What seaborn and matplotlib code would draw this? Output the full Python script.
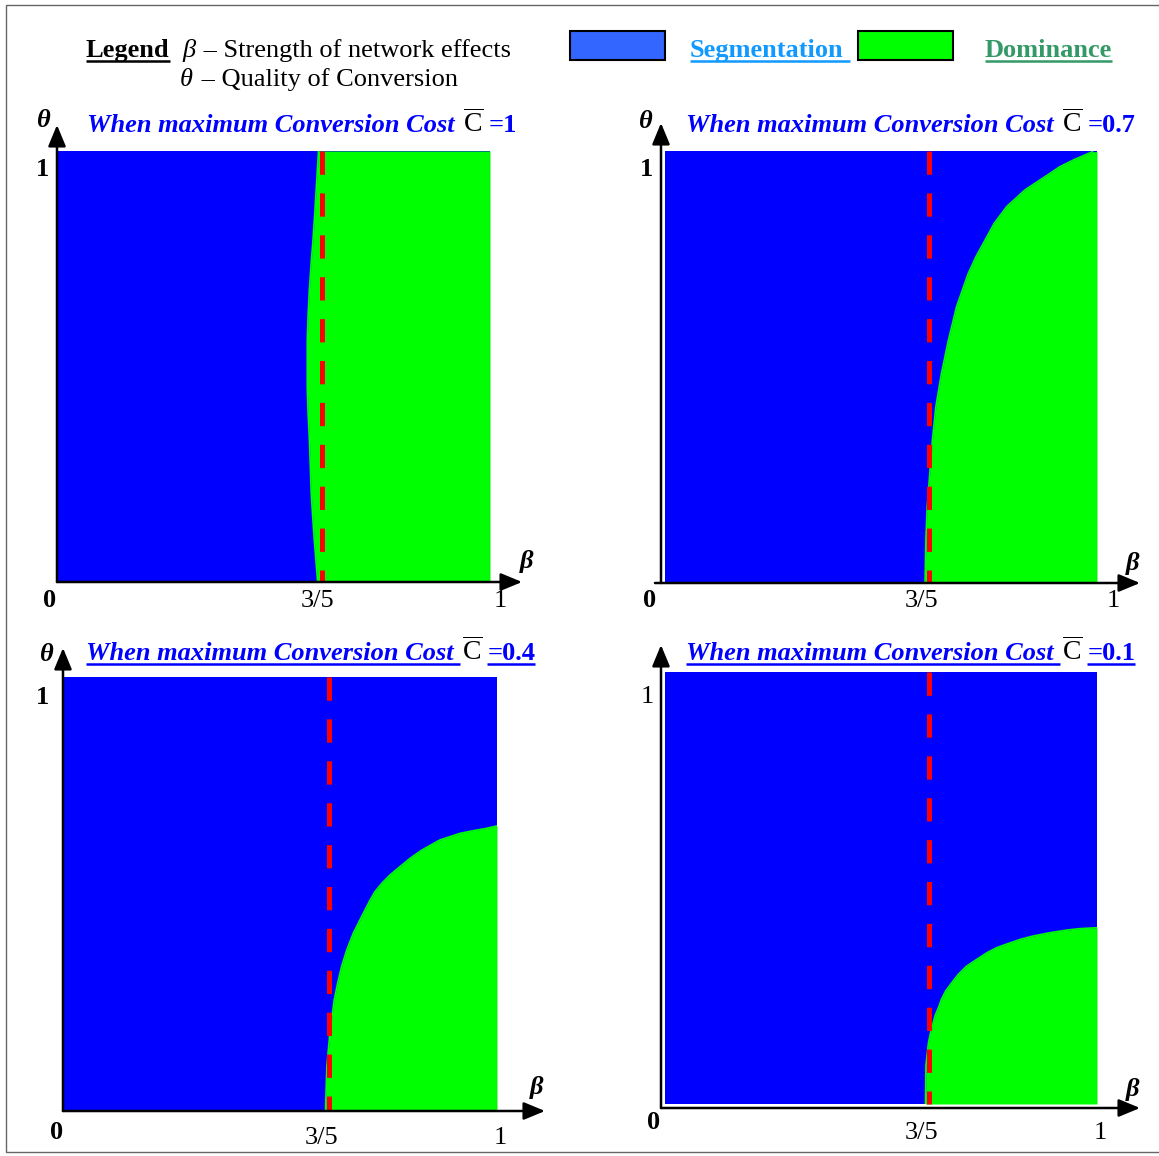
import matplotlib
matplotlib.use("Agg")
import matplotlib.pyplot as plt
import seaborn as sns
from matplotlib.patches import Rectangle

# Dominance / Segmentation boundary: theta (y) and beta (x)
theta_c1 = [0.0, 0.05, 0.10, 0.16, 0.21, 0.27, 0.33, 0.39, 0.45, 0.50, 0.56, 0.62, 0.68, 0.74, 0.79, 0.85, 0.90, 0.95, 1.0]
beta_c1 = [0.602, 0.598, 0.594, 0.590, 0.587, 0.585, 0.583, 0.580, 0.578, 0.578, 0.578, 0.580, 0.583, 0.587, 0.591, 0.595, 0.598, 0.601, 0.604]

theta_c07 = [0.0, 0.10, 0.175, 0.252, 0.329, 0.407, 0.484, 0.561, 0.639, 0.716, 0.755, 0.7935,
             0.832, 0.871, 0.9095, 0.948, 0.9636, 0.979, 0.9985]
beta_c07 = [0.602, 0.604, 0.607, 0.613, 0.619, 0.627, 0.640, 0.656, 0.675, 0.702, 0.720, 0.741,
            0.762, 0.791, 0.833, 0.891, 0.914, 0.945, 0.990]

theta_c04 = [0.0, 0.100, 0.177, 0.2155, 0.254, 0.2926, 0.331, 0.3695, 0.408, 0.446, 0.485, 0.504,
             0.5235, 0.543, 0.562, 0.581, 0.600, 0.6236, 0.639, 0.645, 0.6505, 0.656]
beta_c04 = [0.604, 0.607, 0.614, 0.619, 0.624, 0.632, 0.641, 0.653, 0.668, 0.687, 0.707, 0.718,
            0.734, 0.753, 0.776, 0.799, 0.826, 0.868, 0.915, 0.945, 0.976, 1.0]

theta_c01 = [0.0, 0.088, 0.108, 0.1425, 0.166, 0.185, 0.204, 0.223, 0.2425, 0.262, 0.281, 0.300,
             0.319, 0.335, 0.350, 0.362, 0.373, 0.381, 0.389, 0.3965, 0.4026, 0.406, 0.408]
beta_c01 = [0.603, 0.604, 0.606, 0.610, 0.615, 0.620, 0.625, 0.633, 0.640, 0.650, 0.664, 0.679,
            0.698, 0.722, 0.745, 0.768, 0.799, 0.822, 0.853, 0.891, 0.930, 0.961, 1.0]

cost_labels = ["=1", "=0.7", "=0.4", "=0.1"]
threshold_beta = 0.612   # dashed 3/5 line
tick_mid = "3/5"

BLUE = "#0000FF"
GREEN = "#00FF00"
W, H = 1159, 1156

sns.set_theme(style="white")
plt.rcParams["font.family"] = ["Liberation Serif", "DejaVu Serif"]
plt.rcParams["mathtext.fontset"] = "custom"
plt.rcParams["mathtext.rm"] = "Liberation Serif"
plt.rcParams["mathtext.it"] = "Liberation Serif:italic"
plt.rcParams["mathtext.bf"] = "Liberation Serif:bold"

fig = plt.figure(figsize=(W / 100, H / 100), dpi=100)
FS = 19

# panel layout in pixels: colored box x0, x1, ytop, ybottom
panels = [
    dict(theta=theta_c1, beta=beta_c1, box=(57, 490, 151, 582), title_xy=(87, 132), underline=False,
         vaxis=(57, 582, 125), haxis=(57, 582, 522), theta_lab=(44, 127), beta_lab=(527, 568),
         one_y=(43, 176, "bold"), zero=(50, 607), mid=(318, 607), one_x=(500, 607)),
    dict(theta=theta_c07, beta=beta_c07, box=(665, 1097, 151, 582), title_xy=(686, 132), underline=False,
         vaxis=(661, 583, 123), haxis=(655, 583, 1140), theta_lab=(646, 128), beta_lab=(1133, 570),
         one_y=(647, 176, "bold"), zero=(650, 607), mid=(921, 607), one_x=(1113, 607)),
    dict(theta=theta_c04, beta=beta_c04, box=(64, 497, 677, 1110), title_xy=(86, 660), underline=True,
         vaxis=(63, 1111, 648), haxis=(63, 1111, 545), theta_lab=(47, 661), beta_lab=(537, 1094),
         one_y=(43, 704, "bold"), zero=(57, 1139), mid=(321, 1144), one_x=(500, 1144)),
    dict(theta=theta_c01, beta=beta_c01, box=(665, 1097, 672, 1104), title_xy=(686, 660), underline=True,
         vaxis=(661, 1108, 645), haxis=(661, 1108, 1140), theta_lab=None, beta_lab=(1133, 1096),
         one_y=(647, 703, "normal"), zero=(654, 1129), mid=(921, 1139), one_x=(1100, 1139)),
]

for p in panels:
    x0, x1, yt, yb = p["box"]
    ax = fig.add_axes([x0 / W, (H - yb) / H, (x1 - x0) / W, (yb - yt) / H])
    ax.set_facecolor(BLUE)
    ax.set_xlim(0, 1)
    ax.set_ylim(0, 1)
    ax.set_xticks([])
    ax.set_yticks([])
    sns.despine(ax=ax, left=True, bottom=True)
    ax.fill_betweenx(p["theta"], p["beta"], 1, color=GREEN, lw=0)
    sns.lineplot(x=p["beta"], y=p["theta"], sort=False, estimator=None, color=GREEN, lw=1.2, ax=ax)
    ax.plot([1, 1], [0, p["theta"][-1]], color="#FF00FF", lw=0.8)
    ax.plot([threshold_beta, threshold_beta], [1, 0], color="red", lw=3.6,
            dashes=(4.66, 3.72), clip_on=False, zorder=5)

# overlay in pixel coordinates for texts, arrows and legend
ov = fig.add_axes([0, 0, 1, 1], zorder=10)
ov.patch.set_visible(False)
ov.set_xlim(0, W)
ov.set_ylim(H, 0)
ov.axis("off")
renderer = fig.canvas.get_renderer()


def put(x, y, s, color="black", weight="normal", style="normal", underline=False, ha="left", size=FS):
    t = ov.text(x, y, s, color=color, fontweight=weight, fontstyle=style, fontsize=size,
                ha=ha, va="baseline")
    bb = t.get_window_extent(renderer)
    inv = ov.transData.inverted()
    (bx0, _), (bx1, _) = inv.transform([[bb.x0, bb.y0], [bb.x1, bb.y1]])
    if underline:
        extra = 6 if underline == "space" else 0
        ov.plot([bx0, bx1 + extra], [y + 4, y + 4], color=color, lw=1.8, solid_capstyle="butt")
    return bx1


# figure frame
ov.add_patch(Rectangle((6, 5), W, H - 9, fill=False, ec="#666666", lw=1))

# legend
put(86, 57, "Legend", weight="bold", underline=True)
xe = put(182, 57, "β", style="italic")
put(xe + 2, 57, " – Strength of network effects")
xe = put(180, 86, "θ", style="italic")
put(xe + 2, 86, " – Quality of Conversion")
ov.add_patch(Rectangle((570, 31), 95, 29, fc="#3366FF", ec="black", lw=1.5))
ov.add_patch(Rectangle((858, 31), 95, 29, fc=GREEN, ec="black", lw=1.5))
put(690, 57, "Segmentation", color="#1199FF", weight="bold", underline="space")
put(985, 57, "Dominance", color="#339966", weight="bold", underline=True)

arrow = dict(arrowstyle="-|>,head_length=0.65,head_width=0.27", color="black", lw=1.8,
             mutation_scale=20, shrinkA=0, shrinkB=0)

for p, lab in zip(panels, cost_labels):
    tx, ty = p["title_xy"]
    ul = "space" if p["underline"] else False
    xe = put(tx, ty, "When maximum Conversion Cost", color=BLUE, weight="bold", style="italic",
             underline=ul)
    xe = put(xe + 8, ty, r"$\overline{\mathrm{C}}$", size=FS + 1)
    put(xe + 5, ty, lab, color=BLUE, weight="bold", underline=p["underline"])

    vx, vy0, vy1 = p["vaxis"]
    ov.annotate("", xy=(vx, vy1), xytext=(vx, vy0), arrowprops=arrow)
    hx0, hy, hx1 = p["haxis"]
    ov.annotate("", xy=(hx1, hy), xytext=(hx0, hy), arrowprops=arrow)

    if p["theta_lab"]:
        put(*p["theta_lab"], "θ", weight="bold", style="italic", ha="center")
    put(*p["beta_lab"], "β", weight="bold", style="italic", ha="center")
    ox, oy, ow = p["one_y"]
    put(ox, oy, "1", weight=ow, ha="center")
    put(*p["zero"], "0", weight="bold", ha="center")
    put(*p["mid"], tick_mid, ha="center")
    put(*p["one_x"], "1", ha="center")

fig.savefig("out.png", dpi=100)
